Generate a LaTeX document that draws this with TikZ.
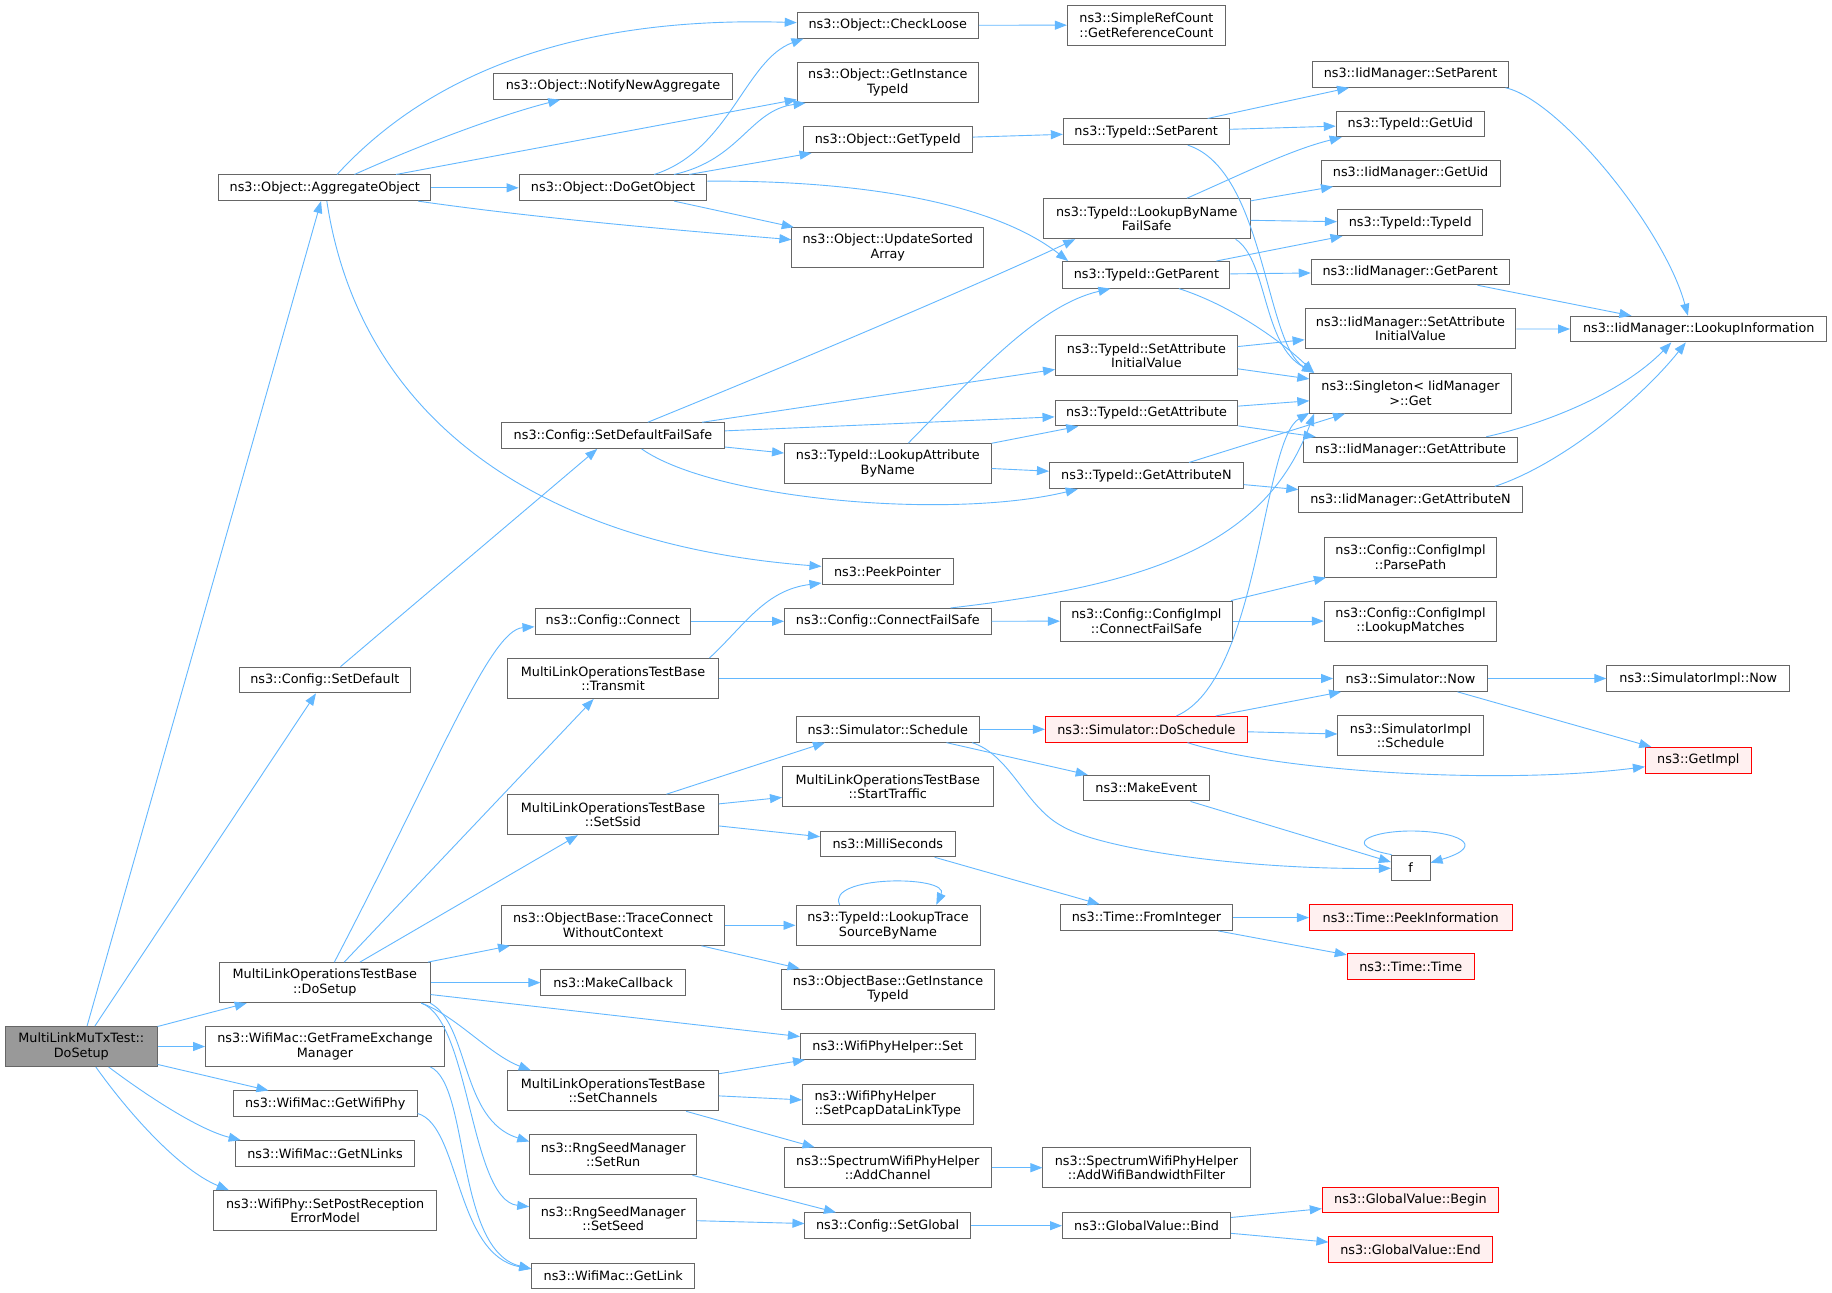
\documentclass[tikz,border=0pt]{standalone}
\usepackage{fontspec}
\setmainfont{DejaVu Sans}
\usetikzlibrary{arrows.meta}
\definecolor{edgeblue}{HTML}{63B8FF}
\definecolor{boxgray}{HTML}{666666}
\definecolor{rootfill}{HTML}{999999}
\definecolor{redfill}{HTML}{FFF0F0}
\tikzset{
  fn/.style={draw=boxgray, fill=white, line width=1pt, inner sep=0pt, minimum height=25.7pt,
    font=\fontsize{12.8}{14.5}\selectfont, align=center},
  fntwo/.style={fn, minimum height=40pt},
  rootnode/.style={fntwo, fill=rootfill},
  rednode/.style={fn, draw=red, fill=redfill},
  e/.style={draw=edgeblue, line width=0.9pt, -{Triangle[length=12pt,width=9pt]}}
}
\begin{document}
\begin{tikzpicture}[x=1pt,y=-1pt]
\fill[white] (0,0) rectangle (1832,1293);
\useasboundingbox (0,0) rectangle (1832,1293);
% column 1
\node[rootnode, minimum width=151.5pt] (T) at (81.3,1046.5) {MultiLinkMuTxTest::\\DoSetup};
% column 2
\node[fn, minimum width=212.3pt] (A) at (324.8,187.8) {ns3::Object::AggregateObject};
\node[fn, minimum width=171.2pt] (SD) at (324.8,680) {ns3::Config::SetDefault};
\node[fntwo, minimum width=210.8pt] (DS) at (324.8,982.6) {MultiLinkOperationsTestBase\\::DoSetup};
\node[fntwo, minimum width=238.8pt] (GFEM) at (325,1046.5) {ns3::WifiMac::GetFrameExchange\\Manager};
\node[fn, minimum width=183.8pt] (GWP) at (325.2,1103.8) {ns3::WifiMac::GetWifiPhy};
\node[fn, minimum width=178.7pt] (GNL) at (325,1153.5) {ns3::WifiMac::GetNLinks};
\node[fntwo, minimum width=222.6pt] (SPR) at (325.2,1210.6) {ns3::WifiPhy::SetPostReception\\ErrorModel};
% column 3
\node[fn, minimum width=239.2pt] (N) at (613,86.4) {ns3::Object::NotifyNewAggregate};
\node[fn, minimum width=187.8pt] (D) at (613,187.8) {ns3::Object::DoGetObject};
\node[fn, minimum width=223.1pt] (SF) at (613,435.6) {ns3::Config::SetDefaultFailSafe};
\node[fn, minimum width=155.6pt] (CC) at (612.8,621.3) {ns3::Config::Connect};
\node[fntwo, minimum width=210.7pt] (TR) at (613,678.5) {MultiLinkOperationsTestBase\\::Transmit};
\node[fntwo, minimum width=210.7pt] (SS) at (613,814.7) {MultiLinkOperationsTestBase\\::SetSsid};
\node[fntwo, minimum width=223.1pt] (TC) at (613,925.3) {ns3::ObjectBase::TraceConnect\\WithoutContext};
\node[fn, minimum width=144.3pt] (MC) at (613.1,982.6) {ns3::MakeCallback};
\node[fntwo, minimum width=210.7pt] (SC) at (613,1090.8) {MultiLinkOperationsTestBase\\::SetChannels};
\node[fntwo, minimum width=166.9pt] (SR) at (613.2,1154.8) {ns3::RngSeedManager\\::SetRun};
\node[fntwo, minimum width=166.9pt] (SE) at (613.2,1218.5) {ns3::RngSeedManager\\::SetSeed};
\node[fn, minimum width=162.9pt] (GL) at (613.2,1276) {ns3::WifiMac::GetLink};
% column 4
\node[fn, minimum width=181.2pt] (CL) at (887.8,25.3) {ns3::Object::CheckLoose};
\node[fntwo, minimum width=181.2pt] (OGI) at (887.8,82.5) {ns3::Object::GetInstance\\TypeId};
\node[fn, minimum width=169pt] (GT) at (887.8,139.7) {ns3::Object::GetTypeId};
\node[fntwo, minimum width=191.8pt] (U) at (887.8,247.7) {ns3::Object::UpdateSorted\\Array};
\node[fntwo, minimum width=206.5pt] (LAB) at (887.8,463.6) {ns3::TypeId::LookupAttribute\\ByName};
\node[fn, minimum width=131pt] (P) at (887.5,571.4) {ns3::PeekPointer};
\node[fn, minimum width=206.5pt] (CFS) at (887.8,621.3) {ns3::Config::ConnectFailSafe};
\node[fn, minimum width=182.9pt] (SSch) at (887.8,729.3) {ns3::Simulator::Schedule};
\node[fntwo, minimum width=210.6pt] (ST) at (887.8,786.6) {MultiLinkOperationsTestBase\\::StartTraffic};
\node[fn, minimum width=134.7pt] (MS) at (887.8,843.9) {ns3::MilliSeconds};
\node[fntwo, minimum width=184pt] (LT) at (888,925.3) {ns3::TypeId::LookupTrace\\SourceByName};
\node[fntwo, minimum width=213.5pt] (OBGI) at (888,989) {ns3::ObjectBase::GetInstance\\TypeId};
\node[fn, minimum width=174.7pt] (WPS) at (887.8,1046.5) {ns3::WifiPhyHelper::Set};
\node[fntwo, minimum width=170.6pt, align=left] (SPC) at (887.8,1104) {ns3::WifiPhyHelper\\::SetPcapDataLinkType};
\node[fntwo, minimum width=206.6pt] (AC) at (887.8,1167.7) {ns3::SpectrumWifiPhyHelper\\::AddChannel};
\node[fn, minimum width=165.3pt] (SG) at (887.6,1225.7) {ns3::Config::SetGlobal};
% column 5
\node[fntwo, minimum width=158pt] (SRC) at (1146.4,25.1) {ns3::SimpleRefCount\\::GetReferenceCount};
\node[fn, minimum width=165.7pt] (TSP) at (1146.2,131.8) {ns3::TypeId::SetParent};
\node[fntwo, minimum width=206.7pt] (LBN) at (1146.7,218.7) {ns3::TypeId::LookupByName\\FailSafe};
\node[fn, minimum width=167pt, minimum height=26.6pt] (GP) at (1146.4,274.8) {ns3::TypeId::GetParent};
\node[fntwo, minimum width=181.7pt] (TSA) at (1146.4,355.9) {ns3::TypeId::SetAttribute\\InitialValue};
\node[fn, minimum width=182.9pt] (TGA) at (1146.5,413) {ns3::TypeId::GetAttribute};
\node[fn, minimum width=194pt] (TGN) at (1146.4,475.8) {ns3::TypeId::GetAttributeN};
\node[fntwo, minimum width=171.9pt] (CIC) at (1146.4,621.1) {ns3::Config::ConfigImpl\\::ConnectFailSafe};
\node[rednode, minimum width=201.9pt] (DSc) at (1146.4,729.3) {ns3::Simulator::DoSchedule};
\node[fn, minimum width=125.3pt] (ME) at (1146.4,788.1) {ns3::MakeEvent};
\node[fn, minimum width=172.3pt] (FI) at (1146.5,917.6) {ns3::Time::FromInteger};
\node[fntwo, minimum width=207.1pt] (AWB) at (1146.5,1167.7) {ns3::SpectrumWifiPhyHelper\\::AddWifiBandwidthFilter};
\node[fn, minimum width=168.2pt] (B) at (1146.6,1225.7) {ns3::GlobalValue::Bind};
% column 6
\node[fn, minimum width=195.1pt] (ISP) at (1410.5,74.4) {ns3::IidManager::SetParent};
\node[fn, minimum width=148.3pt] (TGU) at (1410.4,123.9) {ns3::TypeId::GetUid};
\node[fn, minimum width=179.1pt] (IGU) at (1410.6,173.3) {ns3::IidManager::GetUid};
\node[fn, minimum width=145.5pt] (TT) at (1410.2,222.8) {ns3::TypeId::TypeId};
\node[fn, minimum width=197.9pt] (IGP) at (1410.2,271.9) {ns3::IidManager::GetParent};
\node[fntwo, minimum width=210.8pt] (ISA) at (1410.5,328.9) {ns3::IidManager::SetAttribute\\InitialValue};
\node[fntwo, minimum width=201.4pt] (S) at (1410.5,393.2) {ns3::Singleton< IidManager\\ >::Get};
\node[fn, minimum width=213.9pt] (IGA) at (1410.5,450.1) {ns3::IidManager::GetAttribute};
\node[fn, minimum width=223.3pt] (IGN) at (1410.5,499.7) {ns3::IidManager::GetAttributeN};
\node[fntwo, minimum width=172.5pt] (PP) at (1410.5,557.1) {ns3::Config::ConfigImpl\\::ParsePath};
\node[fntwo, minimum width=172.5pt] (LM) at (1410.5,621.1) {ns3::Config::ConfigImpl\\::LookupMatches};
\node[fn, minimum width=153.8pt] (SN) at (1410.5,678.5) {ns3::Simulator::Now};
\node[fntwo, minimum width=145.2pt] (SIS) at (1410.5,735.8) {ns3::SimulatorImpl\\::Schedule};
\node[fn, minimum width=38.7pt] (f) at (1410.7,868) {f};
\node[rednode, minimum width=202.6pt] (PI) at (1410.7,917.6) {ns3::Time::PeekInformation};
\node[rednode, minimum width=126.9pt] (TI) at (1410.7,966.7) {ns3::Time::Time};
\node[rednode, minimum width=176.4pt] (GB) at (1410.5,1200) {ns3::GlobalValue::Begin};
\node[rednode, minimum width=163.1pt] (GE) at (1410.5,1249.5) {ns3::GlobalValue::End};
% column 7
\node[fn, minimum width=256.4pt] (LI) at (1698.7,329.1) {ns3::IidManager::LookupInformation};
\node[fn, minimum width=183pt] (SIN) at (1698.3,678.5) {ns3::SimulatorImpl::Now};
\node[rednode, minimum width=105.8pt] (GI2) at (1698.3,760.2) {ns3::GetImpl};
% edges from root
\draw[e] (T) -- (A);
\draw[e] (T) -- (SD);
\draw[e] (T) -- (DS);
\draw[e] (T) -- (GFEM);
\draw[e] (T) -- (GWP);
\draw[e] (T) .. controls (150,1098) and (200,1130) .. (GNL.171);
\draw[e] (T) .. controls (130,1115) and (180,1170) .. (SPR.168);
% AggregateObject
\draw[e] (A) .. controls (410,95) and (540,15) .. (CL);
\draw[e] (A) .. controls (420,145) and (500,115) .. (N);
\draw[e] (A) -- (OGI);
\draw[e] (A) -- (D);
\draw[e] (A) .. controls (550,220) and (700,232) .. (U);
\draw[e] (A) .. controls (360,420) and (540,545) .. (P);
% DoGetObject
\draw[e] (D) .. controls (730,150) and (745,60) .. (CL.189);
\draw[e] (D) .. controls (740,160) and (750,110) .. (OGI.194);
\draw[e] (D) -- (GT);
\draw[e] (D) -- (U);
\draw[e] (D.4) .. controls (850,180) and (990,200) .. (GP.170);
% TypeId family
\draw[e] (GT) -- (TSP);
\draw[e] (CL) -- (SRC);
\draw[e] (TSP) -- (ISP);
\draw[e] (TSP) -- (TGU);
\draw[e] (TSP) .. controls (1265,170) and (1265,345) .. (S.168);
\draw[e] (LBN.27) .. controls (1240,175) and (1290,150) .. (TGU.191);
\draw[e] (LBN) -- (IGU);
\draw[e] (LBN) -- (TT);
\draw[e] (LBN.347) .. controls (1268,260) and (1262,345) .. (S.168);
\draw[e] (GP) -- (TT);
\draw[e] (GP) -- (IGP);
\draw[e] (GP.337) .. controls (1230,305) and (1280,340) .. (S.168);
\draw[e] (TSA) -- (ISA);
\draw[e] (TSA) -- (S);
\draw[e] (TGA) -- (S);
\draw[e] (TGA) -- (IGA);
\draw[e] (TGN) -- (S);
\draw[e] (TGN) -- (IGN);
\draw[e] (ISP.352) .. controls (1560,100) and (1665,230) .. (LI.129);
\draw[e] (IGP) -- (LI);
\draw[e] (ISA) -- (LI);
\draw[e] (IGA.10) .. controls (1540,425) and (1620,395) .. (LI.206);
\draw[e] (IGN.9) .. controls (1560,465) and (1640,400) .. (LI.226);
% Config
\draw[e] (SD) -- (SF);
\draw[e] (SF.21) .. controls (850,340) and (1010,270) .. (LBN.196);
\draw[e] (SF) -- (TSA);
\draw[e] (SF) -- (TGA);
\draw[e] (SF) -- (LAB);
\draw[e] (SF.335) .. controls (715,500) and (950,520) .. (TGN.191);
\draw[e] (LAB.45) .. controls (980,370) and (1040,305) .. (GP.201);
\draw[e] (LAB) -- (TGA);
\draw[e] (LAB) -- (TGN);
\draw[e] (CC) -- (CFS);
\draw[e] (CFS) -- (CIC);
\draw[e] (CFS.12) .. controls (1150,585) and (1265,545) .. (S.192);
\draw[e] (CIC) -- (PP);
\draw[e] (CIC) -- (LM);
% Simulator
\draw[e] (TR.12) .. controls (745,625) and (765,590) .. (P.190);
\draw[e] (TR) -- (SN);
\draw[e] (DSc.24) .. controls (1260,680) and (1262,440) .. (S.191);
\draw[e] (DSc) -- (SN);
\draw[e] (DSc) -- (SIS);
\draw[e] (DSc.342) .. controls (1280,772) and (1500,785) .. (GI2.187);
\draw[e] (SSch) -- (DSc);
\draw[e] (SSch) -- (ME);
\draw[e] (SSch.351) .. controls (1010,755) and (1025,805) .. (1060,825) .. controls (1100,850) and (1250,870) .. (f);
\draw[e] (ME) -- (f);
\draw[e] (f.145) .. controls (1340,845) and (1370,831) .. (1411,831) .. controls (1455,831) and (1490,845) .. (f.15);
\draw[e] (SN) -- (SIN);
\draw[e] (SN) -- (GI2);
\draw[e] (SS.21) -- (SSch.192);
\draw[e] (SS) -- (ST);
\draw[e] (SS) -- (MS);
\draw[e] (MS) -- (FI);
\draw[e] (FI) -- (PI);
\draw[e] (FI) -- (TI);
\draw[e] (TC) -- (LT);
\draw[e] (TC) -- (OBGI);
\draw[e] (LT.157) .. controls (825,875) and (950,875) .. (LT.23);
% MultiLinkOperationsTestBase::DoSetup
\draw[e] (DS.65) .. controls (440,760) and (490,630) .. (CC.184);
\draw[e] (DS) -- (TR);
\draw[e] (DS) -- (SS);
\draw[e] (DS) -- (TC);
\draw[e] (DS) -- (MC);
\draw[e] (DS) -- (WPS);
\draw[e] (DS.348) .. controls (455,1015) and (490,1055) .. (SC.166);
\draw[e] (DS.349) .. controls (470,1025) and (460,1120) .. (SR.171);
\draw[e] (DS.348) .. controls (470,1020) and (470,1200) .. (SE.172);
\draw[e] (GFEM.349) .. controls (470,1085) and (455,1250) .. (GL.175);
\draw[e] (GWP.354) .. controls (460,1125) and (455,1255) .. (GL.175);
\draw[e] (SC) -- (WPS);
\draw[e] (SC) -- (SPC);
\draw[e] (SC) -- (AC);
\draw[e] (AC) -- (AWB);
\draw[e] (SR) -- (SG);
\draw[e] (SE) -- (SG);
\draw[e] (SG) -- (B);
\draw[e] (B) -- (GB);
\draw[e] (B) -- (GE);
\end{tikzpicture}
\end{document}
